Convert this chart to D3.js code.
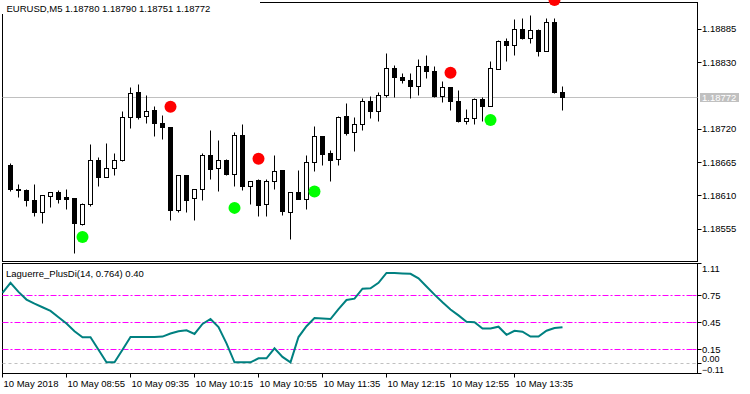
<!DOCTYPE html>
<html>
<head>
<meta charset="utf-8">
<script src="https://cdn.jsdelivr.net/npm/d3@7"></script>
<style>
  body { margin: 0; background: #fff; }
  svg { display: block; font-family: "Liberation Sans", Arial, sans-serif; font-size: 9.5px; }
</style>
</head>
<body>
<script>
// EURUSD M5 candles, 10 May 2018 (first slot 08:15 has no visible candle)
const times = ["08:15","08:20","08:25","08:30","08:35","08:40","08:45","08:50","08:55",
  "09:00","09:05","09:10","09:15","09:20","09:25","09:30","09:35","09:40","09:45","09:50","09:55",
  "10:00","10:05","10:10","10:15","10:20","10:25","10:30","10:35","10:40","10:45","10:50","10:55",
  "11:00","11:05","11:10","11:15","11:20","11:25","11:30","11:35","11:40","11:45","11:50","11:55",
  "12:00","12:05","12:10","12:15","12:20","12:25","12:30","12:35","12:40","12:45","12:50","12:55",
  "13:00","13:05","13:10","13:15","13:20","13:25","13:30","13:35","13:40","13:45","13:50","13:55",
  "14:00","14:05"];

const open = [null,
  1.18660,1.18621,1.18619,1.18602,1.18582,1.18609,1.18616,1.18607,1.18606,1.18562,
  1.18595,1.18669,1.18640,1.18655,1.18668,1.18739,1.18781,1.18741,1.18750,1.18730,
  1.18723,1.18585,1.18643,1.18605,1.18620,1.18676,1.18655,1.18668,1.18645,1.18710,
  1.18626,1.18635,1.18596,1.18634,1.18651,1.18583,1.18616,1.18604,1.18665,1.18708,
  1.18679,1.18670,1.18740,1.18715,1.18728,1.18766,1.18749,1.18776,1.18820,1.18805,
  1.18801,1.18791,1.18824,1.18815,1.18773,1.18789,1.18765,1.18732,1.18737,1.18769,
  1.18757,1.18819,1.18865,1.18858,1.18885,1.18869,1.18883,1.18848,1.18896,1.18780];
const high = [null,
  1.18664,1.18628,1.18621,1.18628,1.18611,1.18616,1.18618,1.18621,1.18606,1.18598,
  1.18694,1.18673,1.18697,1.18679,1.18749,1.18789,1.18793,1.18776,1.18758,1.18743,
  1.18723,1.18644,1.18643,1.18621,1.18679,1.18717,1.18702,1.18670,1.18715,1.18727,
  1.18634,1.18636,1.18636,1.18676,1.18651,1.18616,1.18651,1.18676,1.18725,1.18708,
  1.18684,1.18740,1.18763,1.18739,1.18771,1.18773,1.18781,1.18844,1.18825,1.18812,
  1.18811,1.18835,1.18841,1.18824,1.18798,1.18789,1.18783,1.18752,1.18771,1.18772,
  1.18832,1.18867,1.18870,1.18900,1.18902,1.18907,1.18885,1.18903,1.18903,1.18790];
const low = [null,
  1.18617,1.18607,1.18592,1.18575,1.18565,1.18590,1.18598,1.18588,1.18515,1.18561,
  1.18592,1.18625,1.18640,1.18643,1.18666,1.18721,1.18736,1.18730,1.18707,1.18703,
  1.18569,1.18582,1.18582,1.18569,1.18602,1.18636,1.18617,1.18644,1.18626,1.18618,
  1.18595,1.18575,1.18575,1.18620,1.18577,1.18538,1.18604,1.18588,1.18650,1.18660,
  1.18633,1.18660,1.18710,1.18683,1.18717,1.18737,1.18732,1.18772,1.18772,1.18796,
  1.18770,1.18776,1.18804,1.18772,1.18764,1.18750,1.18731,1.18727,1.18727,1.18732,
  1.18757,1.18818,1.18831,1.18842,1.18868,1.18862,1.18839,1.18848,1.18779,1.18751];
const close = [null,
  1.18620,1.18619,1.18602,1.18582,1.18610,1.18616,1.18604,1.18604,1.18564,1.18596,
  1.18669,1.18640,1.18655,1.18668,1.18739,1.18779,1.18739,1.18749,1.18730,1.18722,
  1.18585,1.18643,1.18603,1.18621,1.18676,1.18654,1.18668,1.18645,1.18710,1.18625,
  1.18634,1.18594,1.18634,1.18650,1.18584,1.18616,1.18604,1.18665,1.18708,1.18678,
  1.18669,1.18739,1.18712,1.18728,1.18766,1.18749,1.18776,1.18820,1.18805,1.18800,
  1.18790,1.18824,1.18815,1.18773,1.18789,1.18765,1.18732,1.18738,1.18769,1.18757,
  1.18820,1.18865,1.18858,1.18885,1.18869,1.18882,1.18848,1.18896,1.18780,1.18772];

// Laguerre +DI, one value per slot
const plusDi = [0.78,
  0.89,0.79,0.705,0.66,0.62,0.58,0.51,0.44,0.355,0.288,
  0.288,0.15,0.01,0.01,0.15,0.29,0.29,0.29,0.29,0.295,
  0.33,0.355,0.365,0.325,0.435,0.49,0.40,0.22,0.01,0.01,
  0.01,0.055,0.055,0.166,0.07,0.01,0.29,0.41,0.50,0.495,
  0.49,0.60,0.70,0.715,0.825,0.83,0.89,1.0,1.0,0.995,
  0.99,0.94,0.85,0.76,0.675,0.595,0.53,0.46,0.455,0.385,
  0.385,0.405,0.315,0.36,0.35,0.295,0.295,0.36,0.39,0.40];

// signal dots
const sellTimes = ["10:00","10:55","12:55","14:00"];
const sellPrices = [1.18757,1.18671,1.18813,1.18933];
const buyTimes = ["09:05","10:40","11:30","13:20"];
const buyPrices = [1.18542,1.18590,1.18617,1.18735];

const priceTicks = [1.18885,1.18830,1.18720,1.18665,1.18610,1.18555];
const lastPrice = 1.18772;
const levels = [0.75,0.45,0.15];
const diTicks = [1.11,0.75,0.45,0.15,0.00,-0.11];
const tickTimes = ["08:15","08:55","09:35","10:15","10:55","11:35","12:15","12:55","13:35"];
const tickLabels = ["10 May 2018","10 May 08:55","10 May 09:35","10 May 10:15","10 May 10:55",
  "10 May 11:35","10 May 12:15","10 May 12:55","10 May 13:35"];

const W = 750, H = 394;
const left = 2.5, right = 697.5;
const mainTop = 2.5, mainBot = 261.5, subTop = 263.5, subBot = 373.5;

const svg = d3.select("body").append("svg").attr("width", W).attr("height", H);

const x = d3.scalePoint().domain(times).range([2.5, 562.5]);
const y = d3.scaleLinear().domain([1.185073, 1.18933]).range([258, 0]);
const yd = d3.scaleLinear().domain([-0.11, 1.11]).range([373.2, 263.0]);
const snap = v => Math.round(v - 0.5) + 0.5;

const bars = times.map((t, i) => ({t, o: open[i], h: high[i], l: low[i], c: close[i]}))
  .filter(d => d.o !== null);

// frames
svg.append("rect").attr("x", left).attr("y", mainTop)
  .attr("width", right - left).attr("height", mainBot - mainTop)
  .attr("fill", "none").attr("stroke", "#000");
svg.append("rect").attr("x", left).attr("y", subTop)
  .attr("width", right - left).attr("height", subBot - subTop)
  .attr("fill", "none").attr("stroke", "#000");

// current price line
svg.append("line").attr("x1", left).attr("x2", right)
  .attr("y1", snap(y(lastPrice))).attr("y2", snap(y(lastPrice)))
  .attr("stroke", "#c0c0c0");

// candles
const g = svg.append("g");
g.selectAll(".wick").data(bars).enter().append("line")
  .attr("x1", d => x(d.t)).attr("x2", d => x(d.t))
  .attr("y1", d => snap(y(d.h))).attr("y2", d => snap(y(d.l)))
  .attr("stroke", "#000");
g.selectAll(".body").data(bars).enter().append("rect")
  .attr("x", d => x(d.t) - 2)
  .attr("width", 4)
  .attr("y", d => snap(y(Math.max(d.o, d.c))))
  .attr("height", d => Math.max(0, snap(y(Math.min(d.o, d.c))) - snap(y(Math.max(d.o, d.c)))))
  .attr("fill", d => d.c >= d.o ? "#fff" : "#000")
  .attr("stroke", "#000");

// signal dots
svg.selectAll(".sell").data(sellTimes).enter().append("circle")
  .attr("cx", d => x(d)).attr("cy", (d, i) => y(sellPrices[i]))
  .attr("r", 6).attr("fill", "#ff0000");
svg.selectAll(".buy").data(buyTimes).enter().append("circle")
  .attr("cx", d => x(d)).attr("cy", (d, i) => y(buyPrices[i]))
  .attr("r", 6).attr("fill", "#00ff00");

// header
svg.append("rect").attr("x", 0).attr("y", 0).attr("width", 260).attr("height", 13).attr("fill", "#fff");
svg.append("line").attr("x1", left).attr("x2", left).attr("y1", 0).attr("y2", 14).attr("stroke", "#fff");
svg.append("text").attr("x", 6.5).attr("y", 12)
  .text("EURUSD,M5  1.18780 1.18790 1.18751 1.18772");

// price axis
const pa = svg.append("g");
pa.selectAll("line").data(priceTicks).enter().append("line")
  .attr("x1", right).attr("x2", right + 4)
  .attr("y1", d => snap(y(d))).attr("y2", d => snap(y(d))).attr("stroke", "#000");
pa.selectAll("text").data(priceTicks).enter().append("text")
  .attr("x", 702).attr("y", d => y(d)).attr("dy", "0.35em")
  .text(d => d3.format(".5f")(d));
svg.append("rect").attr("x", 700).attr("y", snap(y(lastPrice)) - 4.5)
  .attr("width", 39).attr("height", 9).attr("fill", "#c0c0c0");
svg.append("text").attr("x", 702).attr("y", y(lastPrice)).attr("dy", "0.35em")
  .attr("fill", "#fff").text(d3.format(".5f")(lastPrice));

// indicator levels
svg.selectAll(".lvl").data(levels).enter().append("line")
  .attr("x1", left).attr("x2", right)
  .attr("y1", d => snap(yd(d))).attr("y2", d => snap(yd(d)))
  .attr("stroke", "#ff00ff").attr("stroke-dasharray", "6,2,2,2");
svg.append("line").attr("x1", left).attr("x2", right)
  .attr("y1", snap(yd(0))).attr("y2", snap(yd(0)))
  .attr("stroke", "#c0c0c0").attr("stroke-dasharray", "3,3");

// indicator line
const line = d3.line().x((d, i) => x(times[i])).y(d => yd(d));
svg.append("path").datum(plusDi).attr("d", line)
  .attr("fill", "none").attr("stroke", "#008080").attr("stroke-width", 2);

svg.append("text").attr("x", 6).attr("y", 276.5).text("Laguerre_PlusDi(14, 0.764) 0.40");

// indicator axis
const da = svg.append("g");
da.selectAll("line").data(diTicks).enter().append("line")
  .attr("x1", right).attr("x2", right + 4)
  .attr("y1", d => snap(Math.min(Math.max(yd(d), subTop), subBot)))
  .attr("y2", d => snap(Math.min(Math.max(yd(d), subTop), subBot)))
  .attr("stroke", "#000");
da.selectAll(".mk").data(levels.concat([0])).enter().append("line")
  .attr("x1", right - 5).attr("x2", right - 2)
  .attr("y1", d => snap(yd(d))).attr("y2", d => snap(yd(d)))
  .attr("stroke", d => d === 0 ? "#c0c0c0" : "#ff00ff");
// edge labels kept inside the pane, bottom pair nudged apart
const labelY = d => d === 0 ? 359 : Math.min(Math.max(yd(d), 269), 369.5);
da.selectAll("text").data(diTicks).enter().append("text")
  .attr("x", 702).attr("y", labelY).attr("dy", "0.35em")
  .style("font-size", d => d <= 0 ? "9px" : null)
  .text(d => d3.format(".2f")(d));

// time axis
const ta = svg.append("g");
ta.selectAll("line").data(tickTimes).enter().append("line")
  .attr("x1", d => x(d)).attr("x2", d => x(d))
  .attr("y1", subBot).attr("y2", subBot + 4).attr("stroke", "#000");
ta.selectAll("text").data(tickTimes).enter().append("text")
  .attr("x", d => x(d) + 1).attr("y", 386.5)
  .text((d, i) => tickLabels[i]);
</script>
</body>
</html>
